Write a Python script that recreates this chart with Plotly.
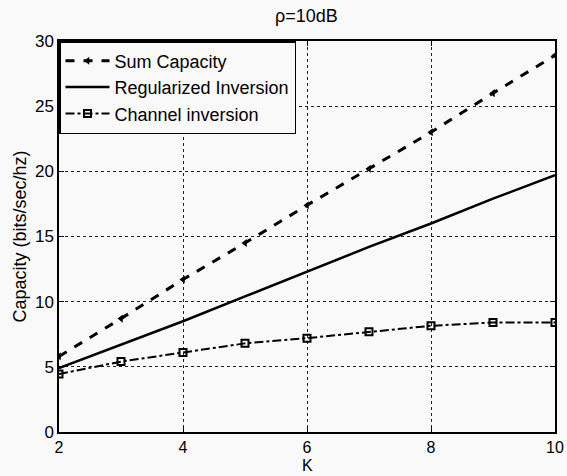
import plotly.graph_objects as go

K = [2, 3, 4, 5, 6, 7, 8, 9, 10]
sum_capacity = [5.8, 8.7, 11.7, 14.5, 17.4, 20.2, 23.0, 26.0, 28.9]
regularized = [4.9, 6.7, 8.5, 10.4, 12.3, 14.2, 16.0, 17.9, 19.7]
channel_inv = [4.45, 5.4, 6.1, 6.8, 7.2, 7.7, 8.15, 8.4, 8.4]

x_ticks = [2, 4, 6, 8, 10]
y_ticks = [0, 5, 10, 15, 20, 25, 30]

FONT = "Liberation Sans, Arial, sans-serif"
BG = "#f9f9f9"
W, H = 567, 476
M_T, M_B = 41, 44

fig = go.Figure()
fig.add_trace(go.Scatter(
    x=K, y=sum_capacity, name="Sum Capacity", mode="lines+markers",
    line=dict(color="black", width=3, dash="dash"),
    marker=dict(symbol="triangle-left", size=7, color="black"),
))
fig.add_trace(go.Scatter(
    x=K, y=regularized, name="Regularized Inversion", mode="lines",
    line=dict(color="black", width=2.5),
))
fig.add_trace(go.Scatter(
    x=K, y=channel_inv, name="Channel inversion", mode="lines+markers",
    line=dict(color="black", width=2, dash="dashdot"),
    marker=dict(symbol="square-open", size=7, color="black", line=dict(width=2, color="black")),
))

axis_common = dict(
    showline=True, linecolor="black", linewidth=1.5, mirror="ticks",
    ticks="inside", ticklen=5, tickcolor="black", tickwidth=1,
    showgrid=True, gridcolor="#222", gridwidth=1, griddash="dot",
    zeroline=False, automargin=False,
)

fig.update_layout(
    width=W, height=H,
    margin=dict(l=59, r=12, t=M_T, b=M_B, autoexpand=False),
    paper_bgcolor=BG, plot_bgcolor=BG,
    font=dict(family=FONT, size=18, color="black"),
    title=dict(text="ρ=10dB", x=0.5405, xanchor="center", y=0.968, yanchor="middle",
               font=dict(family=FONT, size=18)),
    xaxis=dict(range=[2, 10], tickvals=x_ticks,
               tickfont=dict(family=FONT, size=16, color="black"), **axis_common),
    yaxis=dict(range=[0, 30], tickvals=y_ticks,
               tickfont=dict(family=FONT, size=17, color="black"),
               title=dict(text="Capacity (bits/sec/hz)", standoff=4, font=dict(family=FONT, size=18)),
               **axis_common),
    legend=dict(x=0, y=1, xanchor="left", yanchor="top",
                bgcolor=BG, bordercolor="black", borderwidth=1.5,
                font=dict(family=FONT, size=18), tracegroupgap=0,
                itemwidth=44),
    showlegend=True,
    annotations=[dict(text="K", xref="paper", yref="paper", x=0.5,
                      y=-M_B / (H - M_T - M_B), xanchor="center", yanchor="bottom",
                      yshift=1, borderpad=0, showarrow=False,
                      font=dict(family=FONT, size=16, color="black"))],
)

fig.write_html("out.html")
